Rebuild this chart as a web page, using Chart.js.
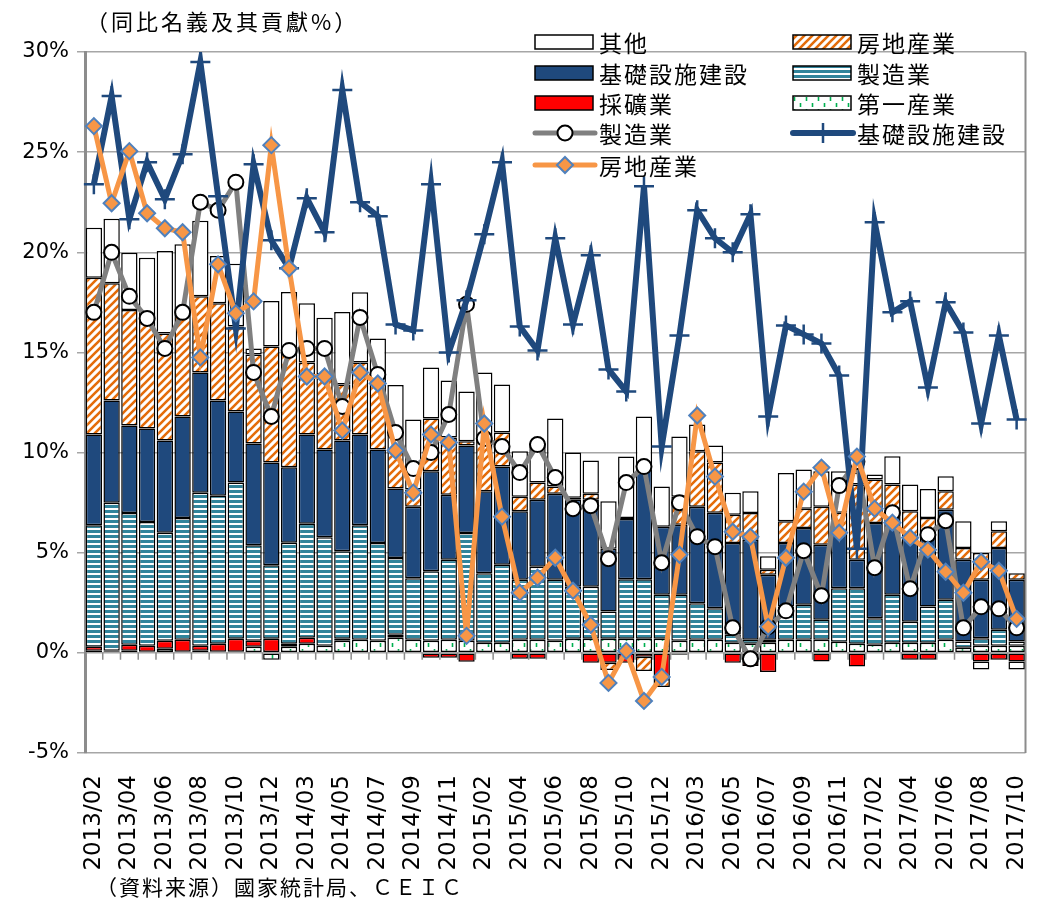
<!DOCTYPE html>
<html>
<head>
<meta charset="utf-8">
<script src="https://cdn.jsdelivr.net/npm/chart.js@4.4.1/dist/chart.umd.min.js"></script>
<style>
html, body { margin: 0; background: #fff; }
#wrap { width: 1038px; height: 899px; }
</style>
</head>
<body>
<div id="wrap"><canvas id="chart"></canvas></div>
<script>
// categories (Jan is merged into Feb in the source data)
var months = ['2013/02','2013/03','2013/04','2013/05','2013/06','2013/07','2013/08','2013/09','2013/10','2013/11','2013/12',
  '2014/02','2014/03','2014/04','2014/05','2014/06','2014/07','2014/08','2014/09','2014/10','2014/11','2014/12',
  '2015/02','2015/03','2015/04','2015/05','2015/06','2015/07','2015/08','2015/09','2015/10','2015/11','2015/12',
  '2016/02','2016/03','2016/04','2016/05','2016/06','2016/07','2016/08','2016/09','2016/10','2016/11','2016/12',
  '2017/02','2017/03','2017/04','2017/05','2017/06','2017/07','2017/08','2017/09','2017/10'];

// contributions (stacked bars, %pt)
var primary = [0.1,0.05,0.1,0.05,0.2,0.05,0.1,0.05,0.05,0.3, -0.35,0.3,0.45,0.35,0.6,0.65,0.6,0.75,0.65,0.6,
  0.65,0.6,0.5,0.5,0.65,0.65,0.6,0.7,0.7,0.7, 0.7,0.7,0.7,0.6,0.65,0.65,0.5,0.45,0.5,0.65,
  0.65,0.65,0.55,0.45,0.4,0.5,0.5,0.5,0.65,0.25, 0.35,0.35,0.35];
var mining = [0.2,0.05,0.3,0.3,0.4,0.6,0.25,0.4,0.65,0.3, 0.7,0.15,0.3,0,0.1,0,0,0.15,0,-0.25,
  -0.25,-0.45,0,0,-0.3,-0.3,0,0,-0.5,-0.5, -0.5,-0.2,-1.3,-0.1,0,0,-0.5,-0.65,-0.95,0,
  0,-0.43,0,-0.68,0,0,-0.35,-0.35,0,0, -0.43,-0.35,-0.43];
var manuf = [6.07,7.4,6.58,6.18,5.4,6.08,7.65,7.4,7.8,4.77, 3.67,5.05,5.7,5.42,4.37,5.72,4.88,3.83,3.08,3.47,
  4.0,5.38,3.48,3.9,3.0,3.65,3.05,2.6,2.6,1.37, 2.98,2.98,2.2,2.3,1.83,1.58,0.4,0.2,0.15,1.67,
  1.75,1.0,2.68,2.78,1.33,2.4,1.05,1.82,2.0,0.32, 0.38,0.8,0.22];
var infra = [4.53,5.1,4.37,4.67,4.6,5.07,6.0,4.75,3.55,5.08, 5.13,3.77,4.45,4.38,5.53,4.53,4.67,3.47,3.57,5.0,
  3.25,4.37,4.09,4.9,3.42,3.35,4.3,4.35,4.35,3.13, 3.0,5.47,3.4,3.5,4.82,4.77,4.58,5.0,3.25,3.16,
  3.83,3.75,2.77,1.42,4.75,4.25,4.27,3.5,4.5,4.08, 2.92,4.08,3.08];
var realEstate = [7.83,5.85,5.77,5.42,5.35,5.2,3.8,4.85,4.25,4.45, 5.8,5.88,3.6,3.75,2.8,3.6,3.25,1.95,0.85,2.63,
  2.85,0.22,2.58,1.7,0.73,0.85,0.35,0.1,0.3,-0.35, 0.05,-0.7,-0.4,1.4,2.77,2.5,1.42,1.33,0.25,1.09,
  0.97,1.9,1.0,3.75,2.17,1.25,1.25,0.91,0.92,0.58, 1.33,0.84,0.33];
var other = [2.5,3.23,2.86,3.11,4.12,3.4,3.77,2.37,3.13,0.3, 2.27,2.87,2.95,2.83,3.62,3.5,2.3,3.22,3.5,2.55,
  2.85,2.48,3.35,2.4,2.27,2.0,3.4,2.25,1.65,2.37, 3.07,2.65,2.0,3.0,1.33,0.85,1.1,1.09,0.67,2.41,
  1.95,1.77,2.07,0.6,0.25,1.42,1.33,1.45,0.75,1.34, -0.4,0.5,-0.4];

// growth rates (lines, %)
var manufGrowth = [17.0,20.0,17.8,16.7,15.2,17.0,22.5,22.1,23.5,14.0, 11.8,15.1,15.2,15.2,12.3,16.75,13.9,11.0,9.2,10.0,
  11.9,17.4,10.7,10.3,9.0,10.4,8.75,7.2,7.35,4.7, 8.5,9.3,4.5,7.5,5.8,5.3,1.25,-0.3,1.3,2.1,
  5.1,2.85,8.35,9.55,4.25,7.0,3.2,5.9,6.6,1.25, 2.3,2.2,1.25];
var infraGrowth = [23.4,27.8,21.65,24.5,22.65,24.9,29.5,22.8,16.2,24.4, 20.6,19.2,22.7,21.0,28.1,22.5,21.8,16.4,16.1,23.4,
  15.0,17.6,20.9,24.5,16.3,15.1,20.7,16.4,19.85,14.15, 13.05,23.3,10.3,15.85,22.1,20.7,20.0,21.9,11.8,16.35,
  15.9,15.45,13.85,5.2,21.5,17.0,17.55,13.25,17.5,16.0, 11.45,15.85,11.65];
var reGrowth = [26.3,22.45,25.05,21.95,21.2,21.0,14.75,19.4,16.95,17.55, 25.35,19.2,13.8,13.8,11.1,14.0,13.45,10.1,8.0,10.9,
  10.5,0.85,11.45,6.8,3.0,3.75,4.75,3.1,1.4,-1.5, 0.1,-2.4,-1.2,4.9,11.85,8.8,6.05,5.8,1.3,4.75,
  8.05,9.25,6.0,9.8,7.2,6.5,5.75,5.15,4.05,3.0, 4.55,4.1,1.7];

var yTicks = [-5, 0, 5, 10, 15, 20, 25, 30];

var NAVY = '#1F497D', ORANGE = '#F79646', GRAY = '#808080';
var CJK = "'Noto Sans CJK JP', 'Noto Sans CJK SC', sans-serif";

function makePattern(w, h, paint) {
  var c = document.createElement('canvas');
  c.width = w; c.height = h;
  var g = c.getContext('2d');
  g.fillStyle = '#fff';
  g.fillRect(0, 0, w, h);
  paint(g);
  return g.createPattern(c, 'repeat');
}
var hatchOrange = makePattern(8, 8, function (g) {
  g.strokeStyle = '#E46C0A';
  g.lineWidth = 2.6;
  g.beginPath();
  g.moveTo(-2, 10); g.lineTo(10, -2);
  g.moveTo(-2, 2); g.lineTo(2, -2);
  g.moveTo(6, 10); g.lineTo(10, 6);
  g.stroke();
});
var stripesTeal = makePattern(4, 5, function (g) {
  g.fillStyle = '#31849B';
  g.fillRect(0, 0, 4, 3);
});
var dotsGreen = makePattern(12, 12, function (g) {
  g.strokeStyle = '#00B050';
  g.lineWidth = 1.6;
  g.beginPath();
  g.moveTo(2.5, 1); g.lineTo(2.5, 5);
  g.moveTo(8.5, 7); g.lineTo(8.5, 11);
  g.stroke();
});

function bars(label, data, fill) {
  return {
    type: 'bar', label: label,
    data: data.map(function (v) { return v === 0 ? null : v; }),
    backgroundColor: fill, borderColor: '#000', borderWidth: 1.5,
    borderSkipped: false, barPercentage: 0.92, categoryPercentage: 1,
    stack: 'contrib', order: 10
  };
}
function line(label, data, color, width, style, radius, bg, border, order) {
  return {
    type: 'line', label: label, data: data, yAxisID: 'y2',
    borderColor: color, borderWidth: width, tension: 0, fill: false,
    pointStyle: style, pointRadius: radius, pointHoverRadius: radius,
    pointBackgroundColor: bg, pointBorderColor: border, pointBorderWidth: 2,
    order: order
  };
}

var datasets = [
  bars('第一産業', primary, dotsGreen),
  bars('採礦業', mining, '#FF0000'),
  bars('製造業', manuf, stripesTeal),
  bars('基礎設施建設', infra, NAVY),
  bars('房地産業', realEstate, hatchOrange),
  bars('其他', other, '#fff'),
  line('製造業', manufGrowth, GRAY, 5, 'circle', 7.5, '#fff', '#000', 3),
  line('基礎設施建設', infraGrowth, NAVY, 6, 'cross', 10, NAVY, NAVY, 2),
  line('房地産業', reGrowth, ORANGE, 5, 'rectRot', 8, ORANGE, '#4F81BD', 1)
];
datasets[7].pointBorderWidth = 2.5;

// legend grid: rows of dataset indices
var legendRows = [[5, 4], [3, 2], [1, 0], [6, 7], [8]];
var legendCols = [535, 793];
var legendY = [42, 73, 103, 133, 165];

function drawMarker(ctx, ds, x, y) {
  var r = ds.pointRadius;
  ctx.lineWidth = ds.pointBorderWidth;
  ctx.strokeStyle = ds.pointBorderColor;
  ctx.fillStyle = ds.pointBackgroundColor;
  ctx.beginPath();
  if (ds.pointStyle === 'circle') {
    ctx.arc(x, y, r, 0, Math.PI * 2);
    ctx.fill(); ctx.stroke();
  } else if (ds.pointStyle === 'rectRot') {
    ctx.moveTo(x, y - r); ctx.lineTo(x + r, y); ctx.lineTo(x, y + r); ctx.lineTo(x - r, y); ctx.closePath();
    ctx.fill(); ctx.stroke();
  } else {
    ctx.moveTo(x - r, y); ctx.lineTo(x + r, y);
    ctx.moveTo(x, y - r); ctx.lineTo(x, y + r);
    ctx.stroke();
  }
}

var decor = {
  id: 'decor',
  beforeDatasetsDraw: function (chart) {
    var ctx = chart.ctx, a = chart.chartArea;
    var y0 = chart.scales.y.getPixelForValue(0);
    var step = (a.right - a.left) / months.length;
    ctx.save();
    ctx.strokeStyle = '#8c8c8c';
    ctx.lineWidth = 1.5;
    ctx.beginPath();
    for (var k = 0; k <= months.length; k++) {
      var x = a.left + k * step;
      ctx.moveTo(x, y0); ctx.lineTo(x, y0 + 7);
    }
    ctx.stroke();
    ctx.lineWidth = 2;
    ctx.beginPath();
    ctx.moveTo(a.right, a.top); ctx.lineTo(a.right, a.bottom);
    ctx.stroke();
    ctx.restore();
  },
  afterDraw: function (chart) {
    var ctx = chart.ctx;
    var sets = chart.data.datasets;
    ctx.save();
    ctx.textBaseline = 'middle';
    ctx.fillStyle = '#000';

    // title and source
    ctx.font = '22px ' + CJK;
    ctx.letterSpacing = '3px';
    ctx.fillText('（同比名義及其貢獻%）', 86, 22);
    ctx.font = '21px ' + CJK;
    ctx.letterSpacing = '2px';
    ctx.fillText('（資料来源）國家統計局、ＣＥＩＣ', 96, 887);

    // legend
    legendRows.forEach(function (row, r) {
      row.forEach(function (idx, c) {
        var ds = sets[idx];
        var x = legendCols[c], y = legendY[r];
        if (ds.type === 'line') {
          ctx.strokeStyle = ds.borderColor;
          ctx.lineWidth = ds.borderWidth;
          ctx.lineCap = 'round';
          ctx.beginPath();
          ctx.moveTo(x, y); ctx.lineTo(x + 60, y);
          ctx.stroke();
          ctx.lineCap = 'butt';
          drawMarker(ctx, ds, x + 30, y);
        } else {
          ctx.fillStyle = ds.backgroundColor;
          ctx.fillRect(x, y - 7, 58, 14);
          ctx.strokeStyle = '#000';
          ctx.lineWidth = 1.5;
          ctx.strokeRect(x, y - 7, 58, 14);
        }
        ctx.fillStyle = '#000';
        ctx.font = '23px ' + CJK;
        ctx.letterSpacing = '2px';
        ctx.fillText(ds.label, x + 64, y + 1);
      });
    });
    ctx.letterSpacing = '0px';
    ctx.restore();
  }
};

new Chart(document.getElementById('chart'), {
  type: 'bar',
  data: { labels: months, datasets: datasets },
  options: {
    responsive: true,
    maintainAspectRatio: false,
    animation: false,
    layout: { padding: { top: 52, right: 5, left: 0, bottom: 0 } },
    plugins: { legend: { display: false }, tooltip: { enabled: false } },
    scales: {
      x: {
        stacked: true,
        grid: { display: false },
        border: { display: false },
        ticks: {
          autoSkip: false, maxRotation: 90, minRotation: 90, padding: 14,
          color: '#000', font: { family: 'DejaVu Sans', size: 23 },
          callback: function (v, i) { return i % 2 === 0 ? months[i] : ''; }
        },
        afterFit: function (s) { s.height = 146; s.paddingLeft = 0; s.paddingRight = 0; }
      },
      y: {
        stacked: true,
        min: yTicks[0], max: yTicks[yTicks.length - 1],
        afterBuildTicks: function (s) { s.ticks = yTicks.map(function (v) { return { value: v }; }); },
        ticks: {
          color: '#000', padding: 8, font: { family: 'DejaVu Sans', size: 21 },
          callback: function (v) { return v + '%'; }
        },
        grid: { color: '#a6a6a6', lineWidth: 1.5, tickLength: 8 },
        border: { color: '#8c8c8c', width: 3 },
        afterFit: function (s) { s.width = 85; }
      },
      y2: { display: false, min: yTicks[0], max: yTicks[yTicks.length - 1] }
    }
  },
  plugins: [decor]
});
</script>
</body>
</html>
